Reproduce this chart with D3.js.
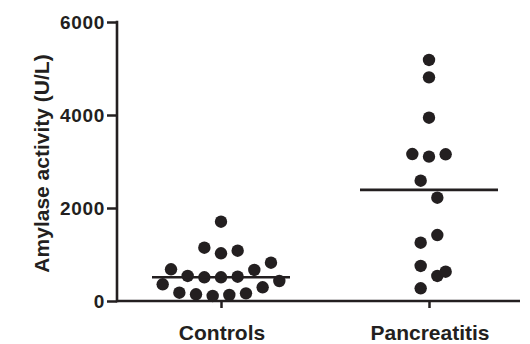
<!DOCTYPE html>
<html>
<head>
<meta charset="utf-8">
<script src="https://cdn.jsdelivr.net/npm/d3@7"></script>
<style>
html,body{margin:0;padding:0;background:#fff;}
svg{display:block;}
text{font-family:"Liberation Sans",Arial,Helvetica,sans-serif;font-weight:bold;fill:#231f20;}
</style>
</head>
<body>
<svg id="chart" width="530" height="344"></svg>
<script>
// ---- data ----
const categories = ["Controls", "Pancreatitis"];
const controlsValues = [1705, 1146, 1026, 1082, 682, 538, 510, 510, 523, 667, 824, 359, 430, 178, 144, 108, 129, 165, 295];
const controlsSlots  = [0, -2, 0, 2, -6, -4, -2, 0, 2, 4, 6, -7, 7, -5, -3, -1, 1, 3, 5];
const pancreatitisValues = [5183, 4810, 3942, 3161, 3104, 3155, 2587, 2222, 1419, 1254, 753, 538, 630, 273];
const pancreatitisSlots  = [0, 0, 0, -2, 0, 2, -1, 1, 1, -1, -1, 1, 2, -1];
const medians = [510, 2390];
const yTicks = [0, 2000, 4000, 6000];
const yLabel = "Amylase activity (U/L)";

// ---- layout ----
const ink = "#231f20";
const svg = d3.select("#chart");
const y = d3.scaleLinear().domain([0, 6000]).range([301, 22]);
const x = d3.scalePoint().domain(categories).range([221, 429]);
const slotW = 8.33;
const axisLeft = 117, axisRight = 520;

const groups = [
  {cat: categories[0], vals: controlsValues, slots: controlsSlots, med: medians[0]},
  {cat: categories[1], vals: pancreatitisValues, slots: pancreatitisSlots, med: medians[1]}
];

// y axis
const yAxis = d3.axisLeft(y).tickValues(yTicks).tickFormat(d3.format("d")).tickSize(10).tickPadding(2);
const gy = svg.append("g").attr("transform", `translate(${axisLeft},0)`).call(yAxis);
gy.select(".domain").remove();
gy.selectAll(".tick line").attr("stroke", ink).attr("stroke-width", 2.5);
gy.selectAll(".tick text").attr("font-size", 19).attr("letter-spacing", "0.7px")
  .attr("font-family", '"Liberation Sans",Arial,sans-serif').attr("font-weight", "bold").attr("fill", ink).attr("dy", "0.36em");
svg.append("line").attr("x1", axisLeft).attr("x2", axisLeft).attr("y1", y(6000) - 1.2).attr("y2", y(0) + 1.2)
  .attr("stroke", ink).attr("stroke-width", 2.6);

// x axis
const xAxis = d3.axisBottom(x).tickSize(7).tickFormat("");
const gx = svg.append("g").attr("transform", `translate(0,${y(0)})`).call(xAxis);
gx.select(".domain").remove();
gx.selectAll(".tick line").attr("stroke", ink).attr("stroke-width", 2.5);
svg.append("line").attr("x1", axisLeft).attr("x2", axisRight).attr("y1", y(0)).attr("y2", y(0))
  .attr("stroke", ink).attr("stroke-width", 2.6);

// category labels
svg.selectAll(".cat").data(categories).enter().append("text")
  .attr("class", "cat")
  .attr("x", d => x(d) + 1)
  .attr("y", 340)
  .attr("text-anchor", "middle")
  .attr("font-size", 21)
  .text(d => d);

// y label
svg.append("text")
  .attr("transform", `translate(48.5,163.5) rotate(-90)`)
  .attr("text-anchor", "middle")
  .attr("font-size", 21)
  .text(yLabel);

// dots
groups.forEach(g => {
  svg.append("g").selectAll("circle").data(g.vals).enter().append("circle")
    .attr("cx", (d, i) => x(g.cat) + g.slots[i] * slotW)
    .attr("cy", d => y(d))
    .attr("r", 6.2)
    .attr("fill", ink);
  svg.append("line")
    .attr("x1", x(g.cat) - 69).attr("x2", x(g.cat) + 69)
    .attr("y1", y(g.med)).attr("y2", y(g.med))
    .attr("stroke", ink).attr("stroke-width", 2.6);
});
</script>
</body>
</html>
